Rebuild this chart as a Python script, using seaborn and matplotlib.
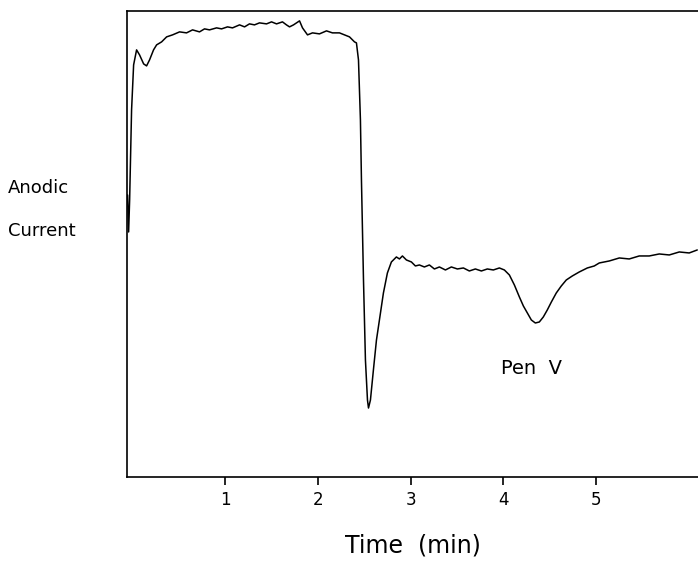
import numpy as np
import pandas as pd
import matplotlib
matplotlib.use("Agg")
import matplotlib.pyplot as plt
import seaborn as sns

# trace (time in min, anodic current in arbitrary units)
time_min = [
    -0.054, -0.043, -0.032, -0.011, 0.011, 0.043, 0.075, 0.119, 0.151, 0.183,
    0.226, 0.259, 0.313, 0.367, 0.431, 0.507, 0.582, 0.647, 0.722, 0.776,
    0.830, 0.906, 0.960, 1.024, 1.078, 1.154, 1.208, 1.261, 1.315, 1.369,
    1.445, 1.499, 1.553, 1.617, 1.660, 1.693, 1.736, 1.801, 1.833, 1.887,
    1.941, 2.016, 2.092, 2.156, 2.232, 2.286, 2.340, 2.394, 2.415, 2.437,
    2.458, 2.469, 2.491, 2.512, 2.534, 2.545, 2.566, 2.598, 2.631, 2.663,
    2.706, 2.749, 2.792, 2.846, 2.879, 2.911, 2.954, 3.008, 3.051, 3.094,
    3.148, 3.202, 3.256, 3.310, 3.375, 3.439, 3.504, 3.569, 3.633, 3.698,
    3.763, 3.827, 3.892, 3.957, 4.011, 4.065, 4.119, 4.173, 4.216, 4.259,
    4.302, 4.345, 4.388, 4.431, 4.474, 4.518, 4.571, 4.625, 4.679, 4.744,
    4.819, 4.906, 4.981, 5.035, 5.143, 5.251, 5.358, 5.466, 5.574, 5.682,
    5.790, 5.898, 6.005, 6.092,
]
current = [
    282, 245, 277, 367, 412, 427, 422, 413, 411, 417,
    427, 432, 435, 440, 442, 445, 444, 447, 445, 448,
    447, 449, 448, 450, 449, 452, 450, 453, 452, 454,
    453, 455, 453, 455, 452, 450, 452, 456, 449, 442,
    444, 443, 446, 444, 444, 442, 440, 435, 434, 417,
    357, 297, 197, 117, 77, 69, 77, 107, 137, 157,
    184, 204, 215, 220, 218, 221, 217, 215, 211, 212,
    210, 212, 208, 210, 207, 210, 208, 209, 206, 208,
    206, 208, 207, 209, 207, 202, 192, 180, 171, 164,
    157, 154, 155, 160, 167, 175, 184, 191, 197, 201,
    205, 209, 211, 214, 216, 219, 218, 221, 221, 223,
    222, 225, 224, 227,
]
x_ticks = [1, 2, 3, 4, 5]

df = pd.DataFrame({"time": time_min, "current": current})

sns.set_style("ticks")
plt.rcParams["font.family"] = ["DejaVu Sans"]
plt.rcParams["text.color"] = "black"
plt.rcParams["xtick.color"] = "black"
plt.rcParams["axes.labelcolor"] = "black"

fig = plt.figure(figsize=(6.98, 5.72), dpi=100)
ax = fig.add_axes([0.182, 0.166, 0.818, 0.815])

sns.lineplot(data=df, x="time", y="current", sort=False, estimator=None,
             color="black", linewidth=1.1, ax=ax)

ax.set_xlim(-0.06, 6.1)
ax.set_ylim(0, 466)
ax.set_xticks(x_ticks)
ax.set_xticklabels([str(t) for t in x_ticks], fontsize=12, color="black")
ax.set_yticks([])
ax.tick_params(axis="x", direction="out", length=6, width=1.2, pad=4)
ax.spines["right"].set_visible(False)
for s in ["left", "bottom", "top"]:
    ax.spines[s].set_linewidth(1.2)
    ax.spines[s].set_color("black")

ax.set_xlabel("Time  (min)", fontsize=17, labelpad=18, color="black")
ax.set_ylabel("")

fig.text(8 / 698, 1 - 188 / 572, "Anodic", fontsize=13, va="center", ha="left")
fig.text(8 / 698, 1 - 231 / 572, "Current", fontsize=13, va="center", ha="left")
ax.text(4.3, 477 - 368, "Pen  V", fontsize=14, ha="center", va="center")

fig.savefig("out.png", dpi=100)
